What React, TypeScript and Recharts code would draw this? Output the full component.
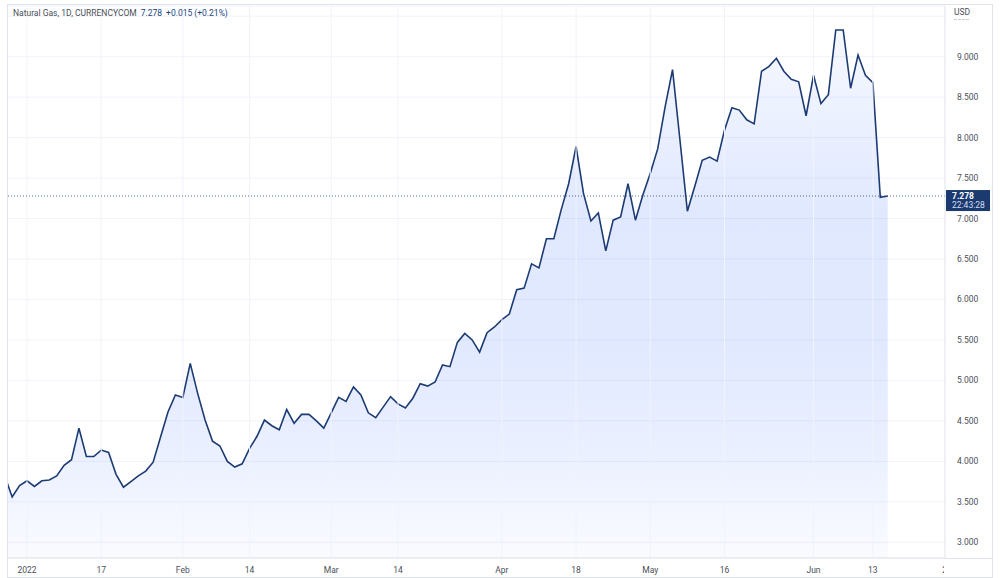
import React from 'react';
import { AreaChart, Area, XAxis, YAxis, CartesianGrid, ReferenceLine } from 'recharts';

// ---- data ----
const firstBar = -3; // Dec 29 2021 (bar index relative to Jan 3 2022)
const prices = [
  3.82, 3.56, 3.70,
  3.76, 3.69, 3.76, 3.77, 3.82, 3.95, 4.02, 4.41, 4.06, 4.06,
  4.14, 4.11, 3.84, 3.68, 3.75, 3.82, 3.88, 3.99, 4.30, 4.61,
  4.82, 4.79, 5.21, 4.84, 4.51, 4.25, 4.19, 4.00, 3.93, 3.97,
  4.16, 4.31, 4.51, 4.44, 4.39, 4.64, 4.47, 4.58, 4.58, 4.50,
  4.41, 4.60, 4.79, 4.74, 4.92, 4.82, 4.60, 4.54, 4.67, 4.80,
  4.71, 4.66, 4.78, 4.96, 4.93, 4.98, 5.19, 5.17, 5.47, 5.58,
  5.50, 5.35, 5.59, 5.66, 5.75, 5.82, 6.12, 6.14, 6.44, 6.39,
  6.75, 6.75, 7.11, 7.43, 7.89, 7.31, 6.97, 7.07, 6.60, 6.98,
  7.02, 7.43, 6.98, 7.29, 7.56, 7.86, 8.38, 8.84, 7.97, 7.09,
  7.40, 7.72, 7.76, 7.71, 8.09, 8.37, 8.34, 8.22, 8.17, 8.82,
  8.88, 8.98, 8.82, 8.72, 8.69, 8.27, 8.77, 8.42, 8.53, 9.33,
  9.33, 8.61, 9.02, 8.77, 8.68, 7.263, 7.278,
];
const tickBars = [0, 10, 21, 30, 41, 50, 64, 74, 84, 94, 106, 114, 124];
const tickLabels = ['2022', '17', 'Feb', '14', 'Mar', '14', 'Apr', '18', 'May', '16', 'Jun', '13', '27'];
const priceTicks = [3, 3.5, 4, 4.5, 5, 5.5, 6, 6.5, 7, 7.5, 8, 8.5, 9, 9.5];
const labelledMax = 9;
const xDomain = [-2.695, 123.72];
const yDomain = [2.806, 9.626];
const symbolTitle = 'Natural Gas, 1D, CURRENCYCOM';
const lastPrice = 7.278;
const changeText = '+0.015 (+0.21%)';
const countdown = '22:43:28';
const currency = 'USD';

const data = prices.map((p, k) => ({ bar: firstBar + k, price: p }));

// ---- style ----
const FONT = 'Roboto, "Open Sans", "Liberation Sans", sans-serif';
const FS = 8.5;
const LINE = '#1d3b73';
const BORDER = '#e0e3eb';
const GRID = '#f0f3fa';
const TEXT = '#4a4f5a';

const XTick = (props: any) => {
  const { x, y, payload } = props;
  const idx = tickBars.indexOf(payload.value);
  return (
    <g clipPath="url(#xLabelClip)">
      <text x={x} y={y + 13} textAnchor="middle" fontSize={FS} fill={TEXT} fontFamily={FONT}>
        {tickLabels[idx]}
      </text>
    </g>
  );
};

const YTick = (props: any) => {
  const { x, y, payload } = props;
  if (payload.value > labelledMax) return <g />;
  return (
    <text x={x + 10} y={y + 3} textAnchor="start" fontSize={FS} fill={TEXT} fontFamily={FONT}>
      {payload.value.toFixed(3)}
    </text>
  );
};

const PriceTag = (props: any) => {
  const vb = props.viewBox || {};
  const left = vb.x + vb.width + 1;
  const yy = vb.y;
  return (
    <g>
      <rect x={left} y={yy - 6} width={44} height={21} fill="#1b3a70" />
      <text x={left + 6} y={yy + 3} fontSize={FS} fontWeight="bold" fill="#ffffff" fontFamily={FONT}>
        {lastPrice.toFixed(3)}
      </text>
      <text x={left + 6} y={yy + 12} fontSize={FS} fill="#d5def0" fontFamily={FONT}>
        {countdown}
      </text>
    </g>
  );
};

export default function App() {
  return (
    <div style={{ position: 'absolute', left: 0, top: 0, width: 1000, height: 578, background: '#ffffff', overflow: 'hidden' }}>
      <AreaChart
        width={1000}
        height={578}
        data={data}
        margin={{ top: 6, right: 8, bottom: 1, left: 7 }}
      >
        <defs>
          <linearGradient id="gasFill" x1="0" y1="0" x2="0" y2="1">
            <stop offset="0%" stopColor="#2962ff" stopOpacity={0.07} />
            <stop offset="35%" stopColor="#2962ff" stopOpacity={0.24} />
            <stop offset="60%" stopColor="#2962ff" stopOpacity={0.23} />
            <stop offset="80%" stopColor="#2962ff" stopOpacity={0.16} />
            <stop offset="100%" stopColor="#2962ff" stopOpacity={0.04} />
          </linearGradient>
          <clipPath id="xLabelClip">
            <rect x={0} y={0} width={944} height={578} />
          </clipPath>
        </defs>
        <CartesianGrid vertical={false} stroke={GRID} />
        {tickBars
          .filter((t) => t >= xDomain[0] && t <= xDomain[1])
          .map((t) => (
            <ReferenceLine key={'v' + t} x={t} stroke={GRID} />
          ))}
        <XAxis
          dataKey="bar"
          type="number"
          domain={xDomain}
          allowDataOverflow
          ticks={tickBars}
          interval={0}
          tick={<XTick />}
          tickLine={false}
          tickSize={0}
          height={19}
          axisLine={{ stroke: BORDER }}
        />
        <YAxis
          orientation="right"
          type="number"
          domain={yDomain}
          allowDataOverflow
          ticks={priceTicks}
          interval={0}
          tick={<YTick />}
          tickLine={false}
          tickSize={0}
          width={47}
          axisLine={{ stroke: BORDER }}
        />
        <Area
          type="linear"
          dataKey="price"
          stroke={LINE}
          strokeWidth={1.6}
          fill="url(#gasFill)"
          isAnimationActive={false}
          dot={false}
          activeDot={false}
        />
        <ReferenceLine
          y={lastPrice}
          stroke={LINE}
          strokeOpacity={0.75}
          strokeDasharray="1 2"
          label={<PriceTag />}
        />
      </AreaChart>

      {/* frame */}
      <div style={{ position: 'absolute', left: 7, top: 4, width: 986, height: 574, border: `1px solid ${BORDER}`, boxSizing: 'border-box', pointerEvents: 'none' }} />
      <div style={{ position: 'absolute', left: 945, top: 558, width: 47, height: 1, background: BORDER }} />

      {/* legend */}
      <div style={{ position: 'absolute', left: 13, top: 6, fontFamily: FONT, fontSize: FS, lineHeight: '14px', whiteSpace: 'nowrap' }}>
        <span style={{ color: TEXT }}>{symbolTitle}</span>
        <span style={{ color: '#23457f', marginLeft: 4 }}>{lastPrice.toFixed(3)}</span>
        <span style={{ color: '#23457f', marginLeft: 4 }}>{changeText}</span>
      </div>

      {/* currency */}
      <div style={{ position: 'absolute', left: 954, top: 5, fontFamily: FONT, fontSize: FS, lineHeight: '14px', color: TEXT }}>
        {currency}
        <div style={{ borderTop: '1px dashed #c8ccd6', width: 15, marginTop: 0 }} />
      </div>
    </div>
  );
}
